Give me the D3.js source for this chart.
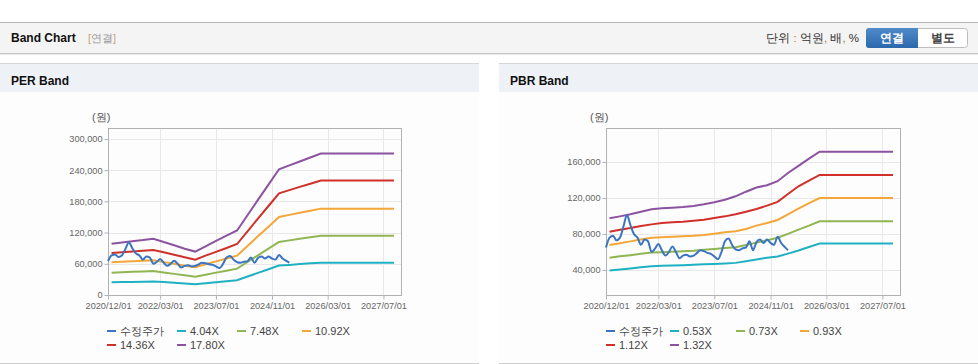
<!DOCTYPE html>
<html>
<head>
<meta charset="utf-8">
<script src="https://cdn.jsdelivr.net/npm/d3@7"></script>
<style>
  body { margin: 0; background: #fff; }
  svg { display: block; font-family: "Liberation Sans", Arial, sans-serif; }
</style>
</head>
<body>
<div id="viz"></div>
<script>
// price + band data, values in thousand won
const start = new Date(2020, 11, 1);
const end = new Date(2027, 11, 1);
const bandDates = d3.timeMonth.every(3).range(start, d3.timeMonth.offset(end, 1));
const priceDates = d3.timeMonth.range(start, new Date(2025, 4, 1));

const tickLabels = ["2020/12/01", "2022/03/01", "2023/07/01", "2024/11/01", "2026/03/01", "2027/07/01"];

const price = [65, 76, 78, 73, 76, 88, 101, 90, 80, 76, 68, 74, 72, 60, 64, 69, 62, 56, 60, 66,
  60, 53, 56, 57, 55, 56, 59, 62, 61, 59, 58, 55, 52, 60, 72, 75, 68, 63, 62, 64,
  65, 72, 62, 71, 74, 70, 74, 70, 68, 77, 70, 66, 62];

const perNames = ["4.04X", "7.48X", "10.92X", "14.36X", "17.80X"];
const per404 = [24.4, 24.8, 25.2, 25.6, 26, 24.8, 23.4, 21.9, 20.5, 22.4, 24.4, 26.3, 28.5, 35.5, 42.5,
  49.5, 56.5, 57.9, 59.4, 60.8, 62.2, 62.2, 62.2, 62.2, 62.2, 62.2, 62.2, 62.2, 62.2];
const per748 = [43, 43.7, 44.5, 45.2, 46, 43.3, 40.6, 37.8, 35.3, 39, 43, 46.8, 50.6, 63.4, 76.3,
  89.1, 102, 105, 108, 111, 114, 114, 114, 114, 114, 114, 114, 114, 114];
const per1092 = [62.8, 63.8, 64.8, 65.7, 66.7, 63.2, 59.9, 56.4, 53.2, 59, 64.7, 70, 75.6, 94.2, 112.8,
  131.4, 150, 154, 158, 162, 166, 166, 166, 166, 166, 166, 166, 166, 166];
const per1436 = [80.8, 82.2, 83.6, 85, 86.5, 82.2, 77.5, 72.5, 68, 75.6, 83, 90.4, 98, 122.4, 146.8,
  171.1, 195.5, 201.6, 207.8, 213.9, 220, 220, 220, 220, 220, 220, 220, 220, 220];
const per1780 = [98.7, 101, 103.5, 105.5, 108, 102, 95.5, 89, 83.5, 93.6, 104, 114, 124, 153.4, 182.8,
  212.2, 241.7, 249.2, 256.7, 264.3, 271.8, 271.8, 271.8, 271.8, 271.8, 271.8, 271.8, 271.8, 271.8];

const pbrNames = ["0.53X", "0.73X", "0.93X", "1.12X", "1.32X"];
const pbr053 = [39.3, 40.5, 41.7, 43, 44.2, 44.7, 45, 45.4, 45.8, 46.3, 46.7, 47.2, 47.9, 49.8, 51.7,
  53.5, 55, 58.2, 61.7, 65.6, 69.3, 69.3, 69.3, 69.3, 69.3, 69.3, 69.3, 69.3, 69.3];
const pbr073 = [53.7, 55.2, 56.5, 58, 59.3, 59.8, 60.3, 60.9, 61.4, 62.5, 63.4, 64.4, 65.2, 67.8, 70.4,
  73, 75.9, 80.2, 84.8, 89.3, 94.2, 94.2, 94.2, 94.2, 94.2, 94.2, 94.2, 94.2, 94.2];
const pbr093 = [67.8, 69.8, 71.8, 73.8, 75.7, 76.3, 76.9, 77.4, 78, 79, 80.4, 81.9, 83, 85.6, 89.3,
  92.2, 95.6, 101.7, 108.2, 114.2, 120, 120, 120, 120, 120, 120, 120, 120, 120];
const pbr112 = [82.6, 84.8, 86.7, 88.9, 90.7, 92.1, 93, 93.7, 94.8, 95.9, 97.8, 99.6, 101.9, 104.8, 107.8,
  111.5, 115.7, 124.4, 133, 139.3, 145.6, 145.6, 145.6, 145.6, 145.6, 145.6, 145.6, 145.6, 145.6];
const pbr132 = [97.4, 99.6, 101.9, 104.8, 107.6, 108.6, 109.3, 110, 111.2, 113, 115.3, 118, 121.9, 127, 131.6,
  134.2, 138.7, 147.8, 155.7, 163.8, 171.5, 171.5, 171.5, 171.5, 171.5, 171.5, 171.5, 171.5, 171.5];

const colors = ["#3a74c2", "#1fb1c3", "#8fb653", "#f4a638", "#d02f2a", "#8b53a0"];

const width = 978, height = 364;
const svg = d3.select("#viz").append("svg")
  .attr("width", width)
  .attr("height", height);

// top bar
svg.append("rect").attr("x", 0).attr("y", 22).attr("width", width).attr("height", 31).attr("fill", "#f4f4f4");
svg.append("line").attr("x1", 0).attr("x2", width).attr("y1", 22.5).attr("y2", 22.5).attr("stroke", "#b4b4b4");
svg.append("line").attr("x1", 0).attr("x2", width).attr("y1", 53.5).attr("y2", 53.5).attr("stroke", "#c4c4c4");
svg.append("line").attr("x1", 0).attr("x2", width).attr("y1", 54.5).attr("y2", 54.5).attr("stroke", "#ebebeb");
svg.append("text").attr("x", 11).attr("y", 42).attr("font-size", 12).attr("font-weight", "bold").attr("fill", "#111").text("Band Chart");
const tag = svg.append("text").attr("x", 88).attr("y", 42).attr("font-size", 11).attr("fill", "#999");
tag.append("tspan").attr("fill", "#c8a27c").text("[");
tag.append("tspan").text("연결");
tag.append("tspan").attr("fill", "#c8a27c").text("]");

const unit = svg.append("text").attr("x", 859).attr("y", 42).attr("text-anchor", "end").attr("font-size", 11.5).attr("fill", "#333");
unit.append("tspan").text("단위 ");
unit.append("tspan").attr("fill", "#b07a2a").text(":");
unit.append("tspan").text(" 억원");
unit.append("tspan").attr("fill", "#b07a2a").text(",");
unit.append("tspan").text(" 배");
unit.append("tspan").attr("fill", "#b07a2a").text(",");
unit.append("tspan").text(" %");

// toggle buttons
const grad = svg.append("defs").append("linearGradient").attr("id", "btn").attr("x1", 0).attr("x2", 0).attr("y1", 0).attr("y2", 1);
grad.append("stop").attr("offset", 0).attr("stop-color", "#4f8bc9");
grad.append("stop").attr("offset", 1).attr("stop-color", "#2b68ab");
svg.append("rect").attr("x", 866.5).attr("y", 28.5).attr("width", 101).attr("height", 19).attr("rx", 3).attr("fill", "#fff").attr("stroke", "#bdbdbd");
svg.append("path").attr("d", "M869,28 H918 V48 H869 Q866,48 866,45 V31 Q866,28 869,28 Z").attr("fill", "url(#btn)");
svg.append("text").attr("x", 892).attr("y", 42).attr("text-anchor", "middle").attr("font-size", 12).attr("font-weight", "bold").attr("fill", "#fff").text("연결");
svg.append("text").attr("x", 943).attr("y", 42).attr("text-anchor", "middle").attr("font-size", 12).attr("font-weight", "bold").attr("fill", "#444").text("별도");

function drawPanel(o) {
  const p = svg.append("g");
  p.append("rect").attr("x", o.x0).attr("y", 63).attr("width", o.w).attr("height", 300).attr("fill", "#fdfdfd");
  p.append("rect").attr("x", o.x0).attr("y", 64).attr("width", o.w).attr("height", 28).attr("fill", "#eef2f7");
  p.append("line").attr("x1", o.x0).attr("x2", o.x0 + o.w).attr("y1", 63.5).attr("y2", 63.5).attr("stroke", "#d6d6d6");
  p.append("line").attr("x1", o.x0).attr("x2", o.x0 + o.w).attr("y1", 363.5).attr("y2", 363.5).attr("stroke", "#d0d0d0");
  p.append("text").attr("x", o.x0 + 11).attr("y", 85).attr("font-size", 12).attr("font-weight", "bold").attr("fill", "#111").text(o.title);

  const x = d3.scaleTime().domain([start, end]).range([o.left, o.right]);
  const y = d3.scaleLinear().domain(o.yDomain).range([o.bottom, o.top]);
  const tickDates = tickLabels.map(d3.timeParse("%Y/%m/%d"));

  // grid
  p.append("g").selectAll("line").data(o.yTicks).join("line")
    .attr("x1", o.left).attr("x2", o.right)
    .attr("y1", d => Math.round(y(d)) + 0.5).attr("y2", d => Math.round(y(d)) + 0.5)
    .attr("stroke", "#e8e8e8");
  p.append("g").selectAll("line").data(tickDates).join("line")
    .attr("x1", d => Math.round(x(d)) + 0.5).attr("x2", d => Math.round(x(d)) + 0.5)
    .attr("y1", o.top).attr("y2", o.bottom)
    .attr("stroke", "#e8e8e8");

  p.append("rect").attr("x", o.left + 0.5).attr("y", o.top + 0.5)
    .attr("width", o.right - o.left).attr("height", o.bottom - o.top)
    .attr("fill", "none").attr("stroke", "#b2b2b2");

  const yAxis = p.append("g").attr("transform", `translate(${o.left + 0.5},0)`)
    .call(d3.axisLeft(y).tickValues(o.yTicks).tickSize(4).tickPadding(2).tickFormat(d => d3.format(",")(d * 1000)));
  const xAxis = p.append("g").attr("transform", `translate(0,${o.bottom + 0.5})`)
    .call(d3.axisBottom(x).tickValues(tickDates).tickSize(4).tickPadding(3).tickFormat(d3.timeFormat("%Y/%m/%d")));
  [yAxis, xAxis].forEach(a => {
    a.select(".domain").remove();
    a.selectAll("line").attr("stroke", "#b2b2b2");
    a.selectAll("text").attr("fill", "#666").attr("font-size", 9.2).attr("font-family", "Liberation Sans, Arial, sans-serif");
  });

  p.append("text").attr("x", o.left - 16).attr("y", 121).attr("font-size", 11).attr("fill", "#555").text("(원)");

  const line = d3.line().x(d => x(d[0])).y(d => y(d[1]));
  const series = o.bands.map((b, i) => ({ name: o.names[i], color: colors[i + 1], pts: bandDates.map((d, j) => [d, b[j]]) }));
  const plot = p.append("g");
  plot.selectAll("path.band").data(series).join("path")
    .attr("class", "band")
    .attr("fill", "none")
    .attr("stroke", d => d.color)
    .attr("stroke-width", 2)
    .attr("d", d => line(d.pts));
  plot.append("path")
    .attr("fill", "none")
    .attr("stroke", colors[0])
    .attr("stroke-width", 2)
    .attr("stroke-linejoin", "round")
    .attr("d", d3.line().curve(d3.curveMonotoneX).x(d => x(d[0])).y(d => y(d[1]))(priceDates.map((d, j) => [d, price[j]])));

  // legend
  const items = [{ name: "수정주가", color: colors[0] }].concat(series);
  const lg = p.append("g").selectAll("g").data(items).join("g")
    .attr("transform", (d, i) => `translate(${o.legendX + o.legendCols[i % 4]},${i < 4 ? 331 : 345})`);
  lg.append("line").attr("x1", 0).attr("x2", 9).attr("y1", 0).attr("y2", 0).attr("stroke", d => d.color).attr("stroke-width", 2);
  lg.append("text").attr("x", 13).attr("y", 4).attr("font-size", 11).attr("fill", "#444").text(d => d.name);
}

drawPanel({
  title: "PER Band", x0: 0, w: 479,
  left: 108, right: 401, top: 128, bottom: 295,
  yDomain: [0, 321], yTicks: [0, 60, 120, 180, 240, 300],
  bands: [per404, per748, per1092, per1436, per1780], names: perNames,
  legendX: 107, legendCols: [0, 70, 130, 195]
});
drawPanel({
  title: "PBR Band", x0: 499, w: 479,
  left: 606, right: 900, top: 128, bottom: 295,
  yDomain: [12.2, 197.8], yTicks: [40, 80, 120, 160],
  bands: [pbr053, pbr073, pbr093, pbr112, pbr132], names: pbrNames,
  legendX: 606, legendCols: [0, 64, 130, 194]
});
</script>
</body>
</html>
